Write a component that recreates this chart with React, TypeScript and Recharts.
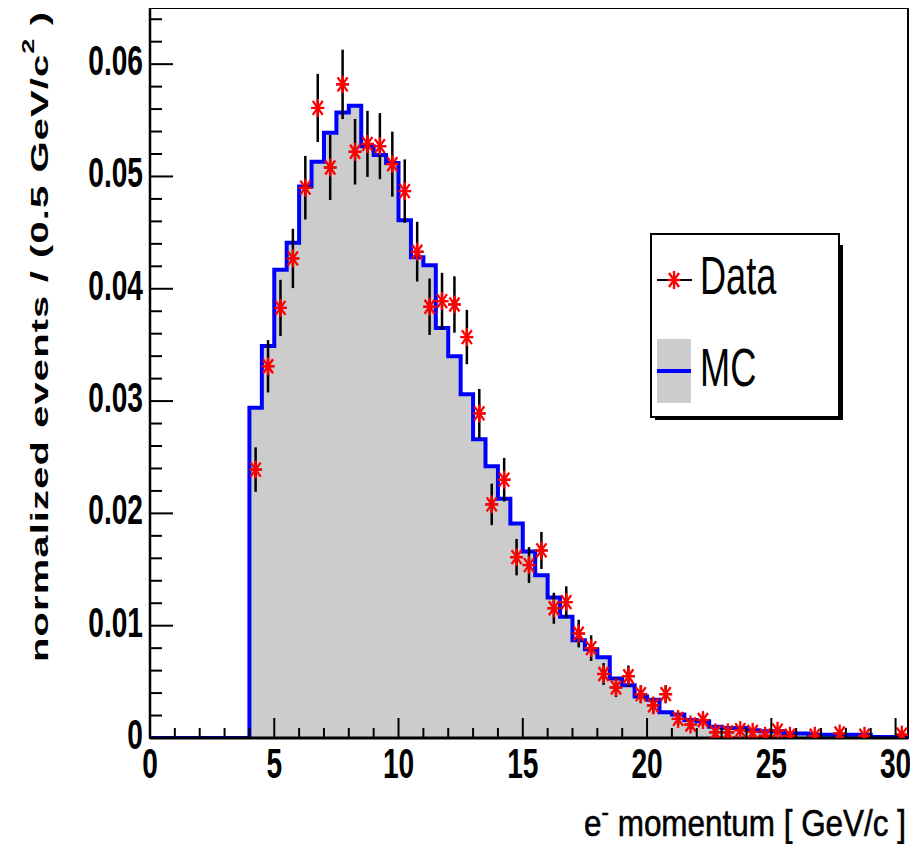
import React from "react";
import {
  ComposedChart,
  Area,
  Scatter,
  XAxis,
  YAxis,
  ErrorBar,
  ReferenceArea,
  Legend,
  Label,
} from "recharts";

const FONT = "'Liberation Sans', Arial, Helvetica, sans-serif";

// MC histogram: bin lower edges (0.5 GeV/c bins) and contents
const mcEdges = [
  0, 0.5, 1, 1.5, 2, 2.5, 3, 3.5, 4, 4.5, 5, 5.5, 6, 6.5, 7, 7.5, 8, 8.5, 9, 9.5,
  10, 10.5, 11, 11.5, 12, 12.5, 13, 13.5, 14, 14.5, 15, 15.5, 16, 16.5, 17, 17.5,
  18, 18.5, 19, 19.5, 20, 20.5, 21, 21.5, 22, 22.5, 23, 23.5, 24, 24.5, 25, 25.5,
  26, 26.5, 27, 27.5, 28, 28.5, 29, 29.5, 30, 30.5,
];
const mcValues = [
  0, 0, 0, 0, 0, 0, 0, 0,
  0.0294, 0.0349, 0.0417, 0.0441, 0.0491, 0.0513, 0.0539, 0.0557, 0.0563, 0.0527,
  0.0519, 0.0512, 0.0461, 0.0428, 0.0421, 0.0365, 0.034, 0.0306, 0.0266, 0.0242,
  0.0213, 0.0191, 0.0166, 0.0145, 0.0125, 0.0108, 0.0087, 0.0079, 0.0072, 0.0053,
  0.0047, 0.0037, 0.0034, 0.0023, 0.0021, 0.0016, 0.0015, 0.001, 0.0009, 0.0009,
  0.0007, 0.0006, 0.0006, 0.0004, 0.0004, 0.0003, 0.0003, 0.0003, 0.0003, 0.0003,
  0.0001, 0.0001, 0.0001,
];

// Data points: bin centres, values, vertical errors
const dataX = [
  4.25, 4.75, 5.25, 5.75, 6.25, 6.75, 7.25, 7.75, 8.25, 8.75, 9.25, 9.75, 10.25,
  10.75, 11.25, 11.75, 12.25, 12.75, 13.25, 13.75, 14.25, 14.75, 15.25, 15.75,
  16.25, 16.75, 17.25, 17.75, 18.25, 18.75, 19.25, 19.75, 20.25, 20.75, 21.25,
  21.75, 22.25, 22.75, 23.25, 23.75, 24.25, 24.75, 25.25, 25.75, 26.75, 27.75,
  28.75, 30.25,
];
const dataY = [
  0.0239, 0.0331, 0.0383, 0.0427, 0.049, 0.0561, 0.0508, 0.0582, 0.0522, 0.0529,
  0.0527, 0.0511, 0.0487, 0.0433, 0.0384, 0.0389, 0.0386, 0.0357, 0.0289, 0.0208,
  0.023, 0.0161, 0.0154, 0.0167, 0.01155, 0.0121, 0.0093, 0.008, 0.0057, 0.0045,
  0.0055, 0.0039, 0.0029, 0.0039, 0.0017, 0.0012, 0.0016, 0.0005, 0.0005, 0.0007,
  0.00055, 0.0002, 0.00065, 0.0002, 0.0002, 0.0004, 0.0002, 0.0003,
];
const dataErr = [
  0.00198, 0.00233, 0.0025, 0.00264, 0.00283, 0.00303, 0.00289, 0.00309, 0.00292,
  0.00294, 0.00294, 0.00289, 0.00282, 0.00266, 0.00251, 0.00252, 0.00251, 0.00242,
  0.00218, 0.00185, 0.00194, 0.00162, 0.00159, 0.00165, 0.00138, 0.00141, 0.00123,
  0.00114, 0.00097, 0.00086, 0.00095, 0.0008, 0.00069, 0.0008, 0.00053, 0.00044,
  0.00051, 0.00029, 0.00029, 0.00034, 0.0003, 0.00018, 0.00033, 0.00018, 0.00018,
  0.00026, 0.00018, 0.00022,
];
const binHalfWidth = 0.25;

const xTicks = [
  0, 1, 2, 3, 4, 5, 6, 7, 8, 9, 10, 11, 12, 13, 14, 15, 16, 17, 18, 19, 20, 21, 22,
  23, 24, 25, 26, 27, 28, 29, 30,
];
const xMajorTicks = [0, 5, 10, 15, 20, 25, 30];
const xTickLabels = ["0", "5", "10", "15", "20", "25", "30"];

const yTicks = [
  0, 0.002, 0.004, 0.006, 0.008, 0.01, 0.012, 0.014, 0.016, 0.018, 0.02, 0.022,
  0.024, 0.026, 0.028, 0.03, 0.032, 0.034, 0.036, 0.038, 0.04, 0.042, 0.044, 0.046,
  0.048, 0.05, 0.052, 0.054, 0.056, 0.058, 0.06, 0.062, 0.064,
];
const yMajorTicks = [0, 0.01, 0.02, 0.03, 0.04, 0.05, 0.06];
const yTickLabels = ["0", "0.01", "0.02", "0.03", "0.04", "0.05", "0.06"];

const mcData = mcEdges.map((x, i) => ({
  x,
  v: mcValues[Math.min(i, mcValues.length - 1)],
}));
const points = dataX.map((x, i) => ({
  x,
  y: dataY[i],
  err: dataErr[i],
  xerr: binHalfWidth,
}));

const StarMark = ({ cx, cy }: { cx: number; cy: number }) => (
  <g stroke="#ff0000" strokeWidth={2.3} fill="none">
    <line x1={cx - 6.5} x2={cx + 6.5} y1={cy} y2={cy} />
    <line x1={cx} x2={cx} y1={cy - 9} y2={cy + 9} />
    <line x1={cx - 5} x2={cx + 5} y1={cy - 7} y2={cy + 7} />
    <line x1={cx - 5} x2={cx + 5} y1={cy + 7} y2={cy - 7} />
  </g>
);

const StarShape = (props: any) => {
  const { cx, cy } = props;
  if (cx == null || cy == null) return <g />;
  return <StarMark cx={cx} cy={cy} />;
};

const XTick = (props: any) => {
  const { x, y, payload } = props;
  const v = payload.value;
  const mi = xMajorTicks.indexOf(v);
  const major = mi >= 0;
  return (
    <g>
      <line x1={x} x2={x} y1={y} y2={y - (major ? 20 : 10)} stroke="#000" strokeWidth={2} />
      {major && (
        <text
          transform={`translate(${x},${y + 40}) scale(0.67,1)`}
          textAnchor="middle"
          fontFamily={FONT}
          fontWeight="bold"
          fontSize={42}
          fill="#000"
        >
          {xTickLabels[mi]}
        </text>
      )}
    </g>
  );
};

const YTick = (props: any) => {
  const { x, y, payload } = props;
  const v = payload.value;
  const mi = yMajorTicks.indexOf(v);
  const major = mi >= 0;
  return (
    <g>
      <line x1={x} x2={x + (major ? 23 : 12)} y1={y} y2={y} stroke="#000" strokeWidth={2} />
      {major && (
        <text
          transform={`translate(${x - 7},${y + 11}) scale(0.67,1)`}
          textAnchor="end"
          fontFamily={FONT}
          fontWeight="bold"
          fontSize={42}
          fill="#000"
        >
          {yTickLabels[mi]}
        </text>
      )}
    </g>
  );
};

const XTitle = () => (
  <text
    transform="translate(906,836) scale(0.85,1)"
    textAnchor="end"
    fontFamily={FONT}
    fontSize={37}
    fill="#000"
    stroke="#000"
    strokeWidth={0.6}
  >
    e<tspan fontSize={26} dy={-15}>-</tspan>
    <tspan dy={15}> momentum [ GeV/c ]</tspan>
  </text>
);

const YTitle = () => (
  <text
    transform="translate(48,337) scale(0.58,1) rotate(-90)"
    textAnchor="middle"
    fontFamily={FONT}
    fontWeight="bold"
    fontSize={40}
    fill="#000"
    textLength={650}
    lengthAdjust="spacing"
  >
    normalized events / (0.5 GeV/c
    <tspan fontSize={27} dy={-25}>2</tspan>
    <tspan dy={25}> )</tspan>
  </text>
);

const LegendBox = () => (
  <svg width={215} height={205} style={{ display: "block", overflow: "visible" }}>
    <rect x={199} y={20} width={4} height={175} fill="#000" />
    <rect x={15} y={192} width={188} height={3} fill="#000" />
    <rect x={11} y={9} width={188} height={183} fill="#fff" stroke="#000" strokeWidth={2} />
    <line x1={17} x2={52} y1={55} y2={55} stroke="#000" strokeWidth={2} />
    <StarMark cx={34} cy={55} />
    <text
      transform="translate(60,69) scale(0.67,1)"
      fontFamily={FONT}
      fontSize={54}
      fill="#000"
    >
      Data
    </text>
    <rect x={17} y={114} width={34} height={64} fill="#cccccc" />
    <line x1={17} x2={51} y1={146} y2={146} stroke="#0000ff" strokeWidth={4} />
    <text
      transform="translate(60,161) scale(0.67,1)"
      fontFamily={FONT}
      fontSize={54}
      fill="#000"
    >
      MC
    </text>
  </svg>
);

export default function App() {
  return (
    <div style={{ margin: -8, width: 918, height: 852, background: "#fff" }}>
      <ComposedChart
        width={918}
        height={852}
        margin={{ top: 8, right: 10, bottom: 0, left: 0 }}
      >
        <ReferenceArea
          x1={0}
          x2={30.5}
          y1={0}
          y2={0.065}
          fill="none"
          stroke="#000"
          strokeWidth={2}
          ifOverflow="visible"
        />
        <Area
          data={mcData}
          dataKey="v"
          type="stepAfter"
          stroke="#0000ff"
          strokeWidth={4}
          fill="#cccccc"
          fillOpacity={1}
          dot={false}
          activeDot={false}
          isAnimationActive={false}
        />
        <Scatter data={points} dataKey="y" shape={StarShape} isAnimationActive={false}>
          <ErrorBar dataKey="xerr" direction="x" width={0} stroke="#000" strokeWidth={2} />
          <ErrorBar dataKey="err" direction="y" width={0} stroke="#000" strokeWidth={2.5} />
        </Scatter>
        <XAxis
          dataKey="x"
          type="number"
          domain={[0, 30.5]}
          allowDataOverflow
          ticks={xTicks}
          interval={0}
          height={114}
          tickSize={0}
          tickMargin={0}
          tickLine={false}
          tick={XTick}
          axisLine={{ stroke: "#000", strokeWidth: 3 }}
        >
          <Label content={XTitle} />
        </XAxis>
        <YAxis
          type="number"
          domain={[0, 0.065]}
          allowDataOverflow
          ticks={yTicks}
          interval={0}
          width={150}
          tickSize={0}
          tickMargin={0}
          tickLine={false}
          tick={YTick}
          axisLine={{ stroke: "#000", strokeWidth: 2.5 }}
        >
          <Label content={YTitle} />
        </YAxis>
        <Legend
          layout="horizontal"
          align="center"
          verticalAlign="middle"
          content={LegendBox}
          wrapperStyle={{ left: 640, top: 225, width: 215, height: 205 }}
        />
      </ComposedChart>
    </div>
  );
}
